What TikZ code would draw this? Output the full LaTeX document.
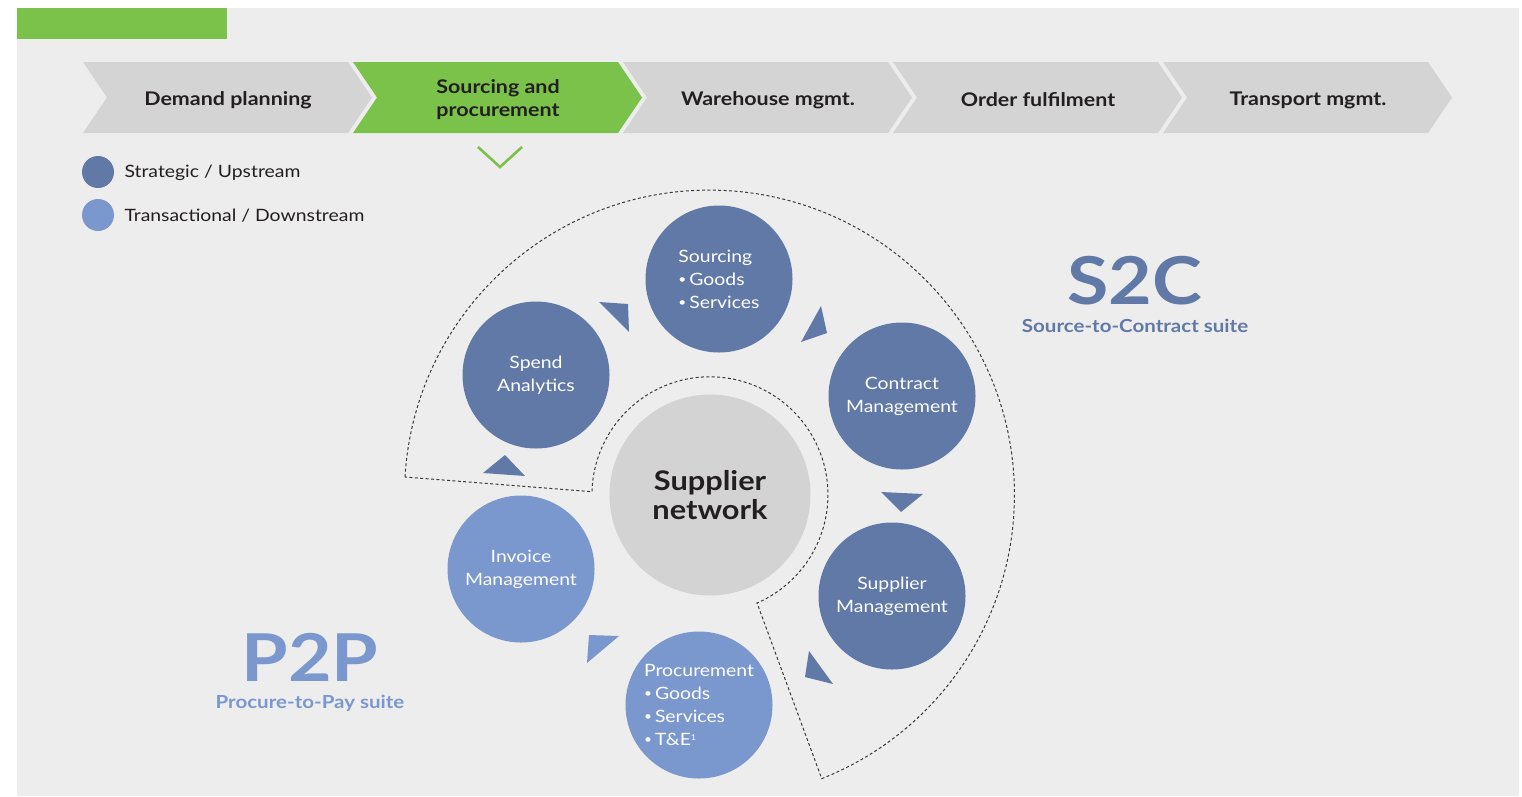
\documentclass[tikz,border=0pt]{standalone}
\usepackage{fontspec}
\setmainfont{Lato}[FakeStretch=1.14]
\definecolor{bgc}{HTML}{EDEDED}
\definecolor{grn}{HTML}{7BC24A}
\definecolor{chg}{HTML}{D4D4D4}
\definecolor{dkb}{HTML}{6179A6}
\definecolor{ltb}{HTML}{7A98CE}
\definecolor{sng}{HTML}{D3D3D3}
\definecolor{txd}{HTML}{231F20}
\definecolor{dsh}{HTML}{3A3A3A}
\newcommand\smbul{\raisebox{1.6pt}{\fontsize{12}{12}\selectfont •}\kern3pt}
\tikzset{
  chevtext/.style={font=\bfseries\fontsize{18.8}{23}\selectfont, text=txd, align=center},
  bub/.style={circle, minimum size=147pt, inner sep=0pt, text=white, font=\fontsize{17}{23}\selectfont},
  dkbub/.style={bub, fill=dkb},
  ltbub/.style={bub, fill=ltb},
  arrowtri/.style={fill=dkb},
  arrowtril/.style={fill=ltb},
  dashline/.style={draw=dsh, line width=1pt, dash pattern=on 3pt off 2.4pt},
  legtext/.style={anchor=west, text=txd, font=\fontsize{17}{20}\selectfont}
}
\begin{document}
\begin{tikzpicture}[x=1pt,y=-1pt]
\useasboundingbox (0,0) rectangle (1522,796);
\fill[bgc] (17,8) rectangle (1519,796);
\fill[grn] (17,8) rectangle (227,39);
% chevrons
\foreach \s/\t/\c [count=\i] in {83/{Demand planning}/chg, 353/{Sourcing and\\procurement}/grn, 623/{Warehouse mgmt.}/chg, 893/{Order fulfilment}/chg, 1163/{Transport mgmt.}/chg}{
  \fill[\c] (\s,62) -- ++(265,0) -- ++(24,35.5) -- ++(-24,35.5) -- ++(-265,0) -- ++(24,-35.5) -- cycle;
  \node[chevtext] (ch\i) at (\s+145,100) {\t};
}
% down marker
\draw[grn, line width=2.6pt] (478,147) -- (500,167) -- (522,147);
% legend
\fill[dkb] (98,172) circle[radius=16];
\fill[ltb] (98,215) circle[radius=16];
\node[legtext] (leg1) at (121,173) {Strategic / Upstream};
\node[legtext] (leg2) at (121,216) {Transactional / Downstream};
% dashed region
\draw[dashline] (405,477) arc[start angle=183.4, end angle=428.4, radius=305] -- (757,603) arc[start angle=66.5, end angle=-178.5, radius=118] -- cycle;
% circles
\node[circle, fill=sng, minimum size=201pt, inner sep=0pt, text=txd, align=center, font=\bfseries\fontsize{27}{29}\selectfont] (sn) at (710,495) {Supplier\\network};
\node[dkbub, align=left] (src) at (719,279) {Sourcing\\\smbul Goods\\\smbul Services};
\node[dkbub, align=center] (spd) at (536,375) {Spend\\Analytics};
\node[dkbub, align=center] (con) at (902,396) {Contract\\Management};
\node[dkbub, align=center] (sup) at (892,596) {Supplier\\Management};
\node[ltbub, align=center] (inv) at (521,569) {Invoice\\Management};
\node[ltbub, align=left] (pro) at (699,705) {Procurement\\\smbul Goods\\\smbul Services\\\smbul T\&E\raisebox{5pt}{\fontsize{8}{8}\selectfont 1}};
% arrow triangles
\fill[arrowtri] (599,302) -- (628,304) -- (629,332) -- cycle;
\fill[arrowtri] (821,306) -- (827,333) -- (801,342) -- cycle;
\fill[arrowtri] (881,492) -- (923,494) -- (901,512) -- cycle;
\fill[arrowtri] (809,651) -- (833,684) -- (805,677) -- cycle;
\fill[arrowtril] (589,635) -- (619,636) -- (587,663) -- cycle;
\fill[arrowtri] (505,455) -- (525,476) -- (483,473) -- cycle;
% suite labels
\node[text=dkb, font=\bfseries\fontsize{66}{66}\selectfont] (s2c) at (1135,281) {S2C};
\node[text=dkb, font=\bfseries\fontsize{18}{20}\selectfont] (s2cl) at (1135,326) {Source-to-Contract suite};
\node[text=ltb, font=\bfseries\fontsize{66}{66}\selectfont] (p2p) at (310,657) {P2P};
\node[text=ltb, font=\bfseries\fontsize{18}{20}\selectfont] (p2pl) at (310,703) {Procure-to-Pay suite};
\end{tikzpicture}
\end{document}
